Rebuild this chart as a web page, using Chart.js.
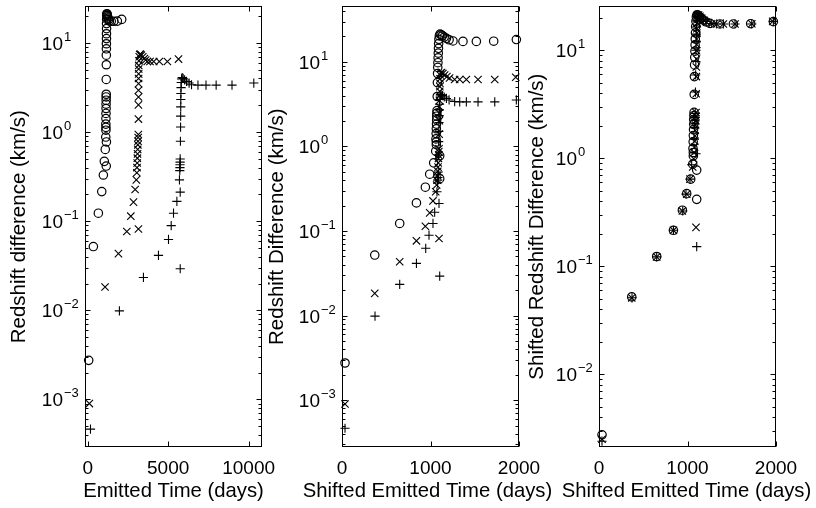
<!DOCTYPE html>
<html>
<head>
<meta charset="utf-8">
<script src="https://cdn.jsdelivr.net/npm/chart.js@4.4.0/dist/chart.umd.min.js"></script>
<style>
  html, body { margin: 0; padding: 0; background: #fff; }
  #wrap { position: relative; width: 816px; height: 508px; overflow: hidden; }
  canvas { position: absolute; top: 0; }
</style>
</head>
<body>
<div id="wrap">
  <canvas id="c1" width="284" height="508" style="left:0px"></canvas>
  <canvas id="c2" width="300" height="508" style="left:258px"></canvas>
  <canvas id="c3" width="298" height="508" style="left:518px"></canvas>
</div>
<script>
// ---- data ----
// circles (o)
const circleDiff = [0.00275, 0.052, 0.123, 0.215, 0.33, 0.47, 0.416, 0.64, 0.776, 0.88, 1.05, 1.13, 1.23, 1.42, 1.62, 1.84, 2.06, 2.28, 2.48, 2.66,
  3.9, 5.7, 7.3, 8.6, 9.8, 11.2, 12.7, 14.5, 16.5, 18.5, 20.3, 21.3, 21.0, 20.4, 19.7, 19.0, 18.3, 17.7, 17.5, 17.5, 17.6, 18.4];
const circleEmitted = [60, 350, 660, 871, 971, 1030, 1150, 1090, 1160, 1120, 1130, 1130, 1125, 1130, 1135, 1140, 1140, 1145, 1145, 1150,
  1150, 1155, 1155, 1160, 1160, 1165, 1165, 1170, 1170, 1175, 1180, 1190, 1200, 1215, 1235, 1260, 1290, 1340, 1460, 1620, 1840, 2110];
const circleShifted = [34, 370, 652, 841, 942, 991, 1104, 1036, 1104, 1059, 1066, 1066, 1062, 1064, 1066, 1068, 1070, 1070, 1072, 1074,
  1076, 1078, 1080, 1082, 1084, 1086, 1088, 1090, 1092, 1095, 1100, 1108, 1120, 1135, 1155, 1180, 1210, 1254, 1367, 1518, 1714, 1970];

// crosses (x)
const crossDiff = [0.0009, 0.0183, 0.0433, 0.0766, 0.114, 0.164, 0.227, 0.291, 0.0817, 0.35, 0.40, 0.45, 0.51, 0.57, 0.64, 0.72, 0.79, 0.87, 0.94,
  1.40, 2.02, 2.48, 2.95, 3.5, 4.0, 4.5, 5.1, 5.6, 6.3, 7.0, 7.4, 7.5, 7.3, 7.0, 6.7, 6.45, 6.2, 6.2, 6.2, 6.2, 6.2, 6.6];
const crossEmitted = [100, 1077, 1908, 2428, 2677, 2843, 2946, 3020, 3151, 3051, 3060, 3075, 3085, 3095, 3105, 3115, 3125, 3135, 3145,
  3151, 3151, 3155, 3155, 3160, 3160, 3165, 3165, 3170, 3180, 3200, 3230, 3270, 3330, 3420, 3520, 3600, 3700, 3870, 4100, 4450, 4950, 5642];
const crossShifted = [34, 370, 652, 841, 942, 991, 1028, 1059, 1096, 1070, 1075, 1080, 1082, 1085, 1088, 1090, 1092, 1094, 1096,
  1098, 1100, 1100, 1102, 1102, 1104, 1104, 1106, 1106, 1108, 1110, 1116, 1125, 1140, 1160, 1185, 1215, 1273, 1330, 1405, 1537, 1726, 1963];
const crossShiftedDiff = [0.0025, 0.051, 0.122, 0.215, 0.325, 0.465, 0.64, 0.83, 0.229, 0.99, 1.13, 1.27, 1.44, 1.61, 1.81, 2.03, 2.23, 2.46, 2.65,
  3.95, 5.7, 7.0, 8.3, 9.9, 11.3, 12.7, 14.4, 15.8, 17.8, 19.7, 20.9, 21.2, 20.6, 19.8, 18.9, 18.2, 17.6, 17.5, 17.5, 17.5, 17.6, 18.5];

// plus signs (+)
const plusDiff = [0.000465, 0.00986, 0.0234, 0.0414, 0.0625, 0.0893, 0.123, 0.167, 0.0293, 0.212, 0.291, 0.37, 0.40, 0.43, 0.46, 0.50,
  0.79, 1.14, 1.51, 1.92, 2.32, 2.71, 3.16, 3.6, 3.95, 4.1, 4.0, 3.85, 3.7, 3.55, 3.4, 3.37, 3.37, 3.37, 3.37, 3.55];
const plusEmitted = [170, 1968, 3462, 4396, 5019, 5187, 5331, 5540, 5747, 5747, 5700, 5720, 5730, 5735, 5740, 5745,
  5760, 5770, 5775, 5780, 5785, 5790, 5800, 5810, 5830, 5870, 5930, 6020, 6140, 6300, 6450, 6850, 7350, 7980, 8966, 10320];
const plusShifted = [34, 373, 652, 841, 946, 983, 1028, 1047, 1104, 1096, 1073, 1080, 1082, 1084, 1086, 1088,
  1090, 1092, 1094, 1096, 1098, 1100, 1102, 1105, 1110, 1120, 1135, 1155, 1180, 1210, 1273, 1330, 1405, 1537, 1726, 1970];
const plusShiftedDiff = [0.0024, 0.051, 0.122, 0.215, 0.325, 0.465, 0.64, 0.87, 0.152, 1.10, 1.51, 1.92, 2.08, 2.24, 2.39, 2.6,
  4.1, 5.9, 7.85, 10.0, 12.1, 14.1, 16.4, 18.7, 20.5, 21.3, 20.8, 20.0, 19.2, 18.5, 17.7, 17.5, 17.5, 17.5, 17.5, 18.5];

// tick labels
const xTicksEmitted = [0, 5000, 10000];
const xTicksShifted = [0, 1000, 2000];
const yExps12 = [-3, -2, -1, 0, 1];
const yExps3 = [-2, -1, 0, 1];

const FONT = '"Liberation Sans", Arial, Helvetica, sans-serif';
Chart.defaults.font.family = FONT;
Chart.defaults.color = '#000';

const pts = (xs, ys) => xs.map((x, i) => ({ x: x, y: ys[i] }));

// box, inward ticks, 10^n labels and x title like the original plotting program
const matlabAxes = {
  id: 'matlabAxes',
  afterDraw(chart, args, opts) {
    const ctx = chart.ctx;
    const a = chart.chartArea;
    const xs = chart.scales.x, ys = chart.scales.y;
    const L = Math.round(a.left) + 0.5, R = Math.round(a.right) - 0.5;
    const T = Math.round(a.top) + 0.5, B = Math.round(a.bottom) - 0.5;
    ctx.save();
    ctx.strokeStyle = '#000';
    ctx.lineWidth = 1;
    ctx.strokeRect(L, T, R - L, B - T);
    ctx.beginPath();
    for (let e = -5; e <= 2; e++) {
      for (let m = 1; m <= 9; m++) {
        const v = m * Math.pow(10, e);
        if (v < ys.min || v > ys.max) continue;
        const py = Math.round(ys.getPixelForValue(v)) + 0.5;
        const len = m === 1 ? 5 : 3;
        ctx.moveTo(L, py); ctx.lineTo(L + len, py);
        ctx.moveTo(R, py); ctx.lineTo(R - len, py);
      }
    }
    opts.xTicks.forEach(v => {
      const px = Math.round(xs.getPixelForValue(v)) + 0.5;
      ctx.moveTo(px, B); ctx.lineTo(px, B - 5);
      ctx.moveTo(px, T); ctx.lineTo(px, T + 5);
    });
    ctx.stroke();

    ctx.fillStyle = '#000';
    ctx.textBaseline = 'alphabetic';
    ctx.font = '19px ' + FONT;
    ctx.textAlign = 'center';
    opts.xTicks.forEach(v => ctx.fillText(String(v), xs.getPixelForValue(v), a.bottom + 26.5));
    opts.yExps.forEach(e => {
      const py = ys.getPixelForValue(Math.pow(10, e));
      ctx.font = '19px ' + FONT;
      ctx.textAlign = 'right';
      ctx.fillText('10', a.left - 22, py + 7);
      ctx.font = '13px ' + FONT;
      ctx.textAlign = 'left';
      ctx.fillText(e < 0 ? '\u2212' + (-e) : String(e), a.left - 21, py - 2);
    });

    // x axis title (drawn here so it is not squeezed to the axis width)
    ctx.font = '20.3px ' + FONT;
    ctx.textAlign = 'center';
    ctx.fillText(opts.xTitle, (a.left + a.right) / 2 + opts.xTitleShift, a.bottom + 50);
    ctx.restore();
  }
};

function datasets(circ, cross, plus) {
  return [
    { data: circ, pointStyle: 'circle', radius: 4.2, borderWidth: 1.2, borderColor: '#000', backgroundColor: 'rgba(0,0,0,0)', clip: false },
    { data: cross, pointStyle: 'crossRot', radius: 5.2, borderWidth: 1.1, borderColor: '#000', backgroundColor: 'rgba(0,0,0,0)', clip: false },
    { data: plus, pointStyle: 'cross', radius: 4.6, borderWidth: 1.1, borderColor: '#000', backgroundColor: 'rgba(0,0,0,0)', clip: false }
  ];
}

function makeChart(id, sets, o) {
  return new Chart(document.getElementById(id), {
    type: 'scatter',
    data: { datasets: sets },
    plugins: [matlabAxes],
    options: {
      responsive: false,
      animation: false,
      devicePixelRatio: 1,
      layout: { padding: { left: 0, right: o.padRight, top: 6, bottom: 0 } },
      plugins: {
        legend: { display: false },
        tooltip: { enabled: false },
        matlabAxes: { xTicks: o.xTicks, yExps: o.yExps, xTitle: o.xTitle, xTitleShift: o.xTitleShift || 0 }
      },
      scales: {
        x: {
          type: 'linear', min: o.xMin, max: o.xMax,
          ticks: { display: false }, grid: { display: false }, border: { display: false },
          title: { display: false },
          afterFit: s => { s.height = 61; }
        },
        y: {
          type: 'logarithmic', min: o.yMin, max: o.yMax,
          ticks: { display: false }, grid: { display: false }, border: { display: false },
          title: { display: true, text: o.yTitle, font: { size: 20.5 }, padding: { top: 7, bottom: 0 } },
          afterFit: s => { s.width = o.yWidth; }
        }
      }
    }
  });
}

makeChart('c1', datasets(pts(circleEmitted, circleDiff), pts(crossEmitted, crossDiff), pts(plusEmitted, plusDiff)), {
  xMin: -170, xMax: 10830, yMin: 2.93e-4, yMax: 25.8, yWidth: 85, padRight: 22,
  xTicks: xTicksEmitted, yExps: yExps12,
  xTitle: 'Emitted Time (days)', yTitle: 'Redshift difference (km/s)'
});

makeChart('c2', datasets(pts(circleShifted, circleDiff), pts(crossShifted, crossDiff), pts(plusShifted, plusDiff)), {
  xMin: 0, xMax: 2000, yMin: 2.79e-4, yMax: 45.5, yWidth: 84, padRight: 39,
  xTicks: xTicksShifted, yExps: yExps12, xTitleShift: -3,
  xTitle: 'Shifted Emitted Time (days)', yTitle: 'Redshift Difference (km/s)'
});

makeChart('c3', datasets(pts(circleShifted, circleDiff), pts(crossShifted, crossShiftedDiff), pts(plusShifted, plusShiftedDiff)), {
  xMin: 0, xMax: 2000, yMin: 2.12e-3, yMax: 25.5, yWidth: 81, padRight: 40,
  xTicks: xTicksShifted, yExps: yExps3, xTitleShift: -1,
  xTitle: 'Shifted Emitted Time (days)', yTitle: 'Shifted Redshift Difference (km/s)'
});
</script>
</body>
</html>
